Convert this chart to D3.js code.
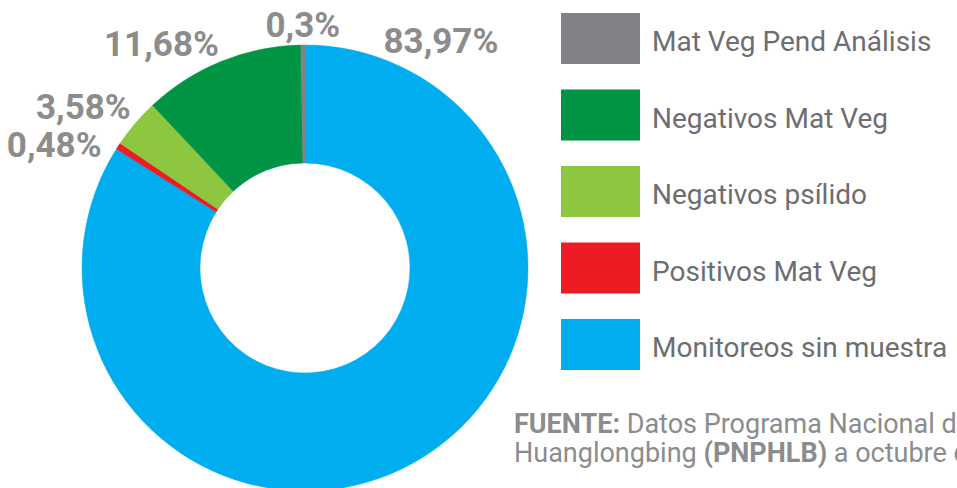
<!DOCTYPE html>
<html>
<head>
<meta charset="utf-8">
<script src="https://cdn.jsdelivr.net/npm/d3@7"></script>
<style>
  html, body { margin: 0; padding: 0; background: #fff; overflow: hidden; }
  svg { display: block; font-family: Roboto, "DejaVu Sans", sans-serif; }
  .pct { font-weight: 700; fill: #8c8c8c; font-size: 35px; }
  .legend-text { fill: #6d6e71; font-size: 28px; }
  .source { fill: #8a8c8e; font-size: 27px; }
</style>
</head>
<body>
<svg width="957" height="488"></svg>
<script>
// legend order (top to bottom)
const categories = ["Mat Veg Pend Análisis", "Negativos Mat Veg", "Negativos psílido", "Positivos Mat Veg", "Monitoreos sin muestra"];
const values = [0.3, 11.68, 3.58, 0.48, 83.97];
const labels = ["0,3%", "11,68%", "3,58%", "0,48%", "83,97%"];
const colors = ["#808285", "#009444", "#8dc63f", "#ed1c24", "#00aeef"];

const svg = d3.select("svg"),
  width = +svg.attr("width"),
  height = +svg.attr("height");

const cx = 305, cy = 268,
  outerR = 223, innerR = 105;

const g = svg.append("g").attr("transform", `translate(${cx},${cy})`);

// pie runs clockwise from 12 o'clock, blue first -> reverse of legend order
const pieData = categories.map((c, i) => ({ cat: c, value: values[i], label: labels[i], color: colors[i] })).reverse();

const pie = d3.pie().sort(null).value(d => d.value);
const arc = d3.arc().innerRadius(innerR).outerRadius(outerR);

const arcs = pie(pieData);

g.selectAll("path.slice")
  .data(arcs)
  .enter().append("path")
  .attr("class", "slice")
  .attr("fill", d => d.data.color)
  .attr("stroke", d => d.data.color)
  .attr("stroke-width", 0.5)
  .attr("d", arc);

// label placement: just outside the outer edge
const pad = 6;
const labelPos = arcs.map(d => {
  let a = (d.startAngle + d.endAngle) / 2;
  // the big slice's middle is off screen, put its label near its start
  if (d.endAngle - d.startAngle > Math.PI) a = d.startAngle + 0.35;
  const s = Math.sin(a), c = Math.cos(a);
  let anchor = Math.abs(s) < 0.1 ? "middle" : (s < 0 ? "end" : "start");
  return {
    d: d,
    x: s * (outerR + pad),
    y: -c * (outerR + pad) + (anchor === "middle" ? -2 : 0),
    anchor: anchor
  };
});

// push colliding labels on the left downwards and outwards
const left = labelPos.filter(p => p.anchor === "end").sort((a, b) => a.y - b.y);
const minGap = 38;
for (let i = 1; i < left.length; i++) {
  const gap = left[i].y - left[i - 1].y;
  if (gap < minGap) {
    left[i].y += minGap - gap;
    left[i].x -= (minGap - gap) * 0.8;
  }
}

g.selectAll("text.pct")
  .data(labelPos)
  .enter().append("text")
  .attr("class", "pct")
  .attr("x", p => p.x)
  .attr("y", p => p.y)
  .attr("text-anchor", p => p.anchor)
  .text(p => p.d.data.label);

// legend
const legendX = 561, legendY = 13, step = 76.5;
const legend = svg.append("g")
  .selectAll("g")
  .data(categories)
  .enter().append("g")
  .attr("transform", (d, i) => `translate(${legendX},${legendY + i * step})`);

legend.append("rect")
  .attr("width", 79)
  .attr("height", 51)
  .attr("fill", (d, i) => colors[i]);

legend.append("text")
  .attr("class", "legend-text")
  .attr("x", 91)
  .attr("y", 38)
  .text(d => d);

// source note (runs off the right edge like the original)
const src = svg.append("text")
  .attr("class", "source")
  .attr("x", 514)
  .attr("y", 433);
src.append("tspan").attr("font-weight", 700).text("FUENTE:");
src.append("tspan").text(" Datos Programa Nacional de");

const src2 = svg.append("text")
  .attr("class", "source")
  .attr("x", 514)
  .attr("y", 462);
src2.append("tspan").text("Huanglongbing ");
src2.append("tspan").attr("font-weight", 700).text("(PNPHLB)");
src2.append("tspan").text(" a octubre de");
</script>
</body>
</html>
